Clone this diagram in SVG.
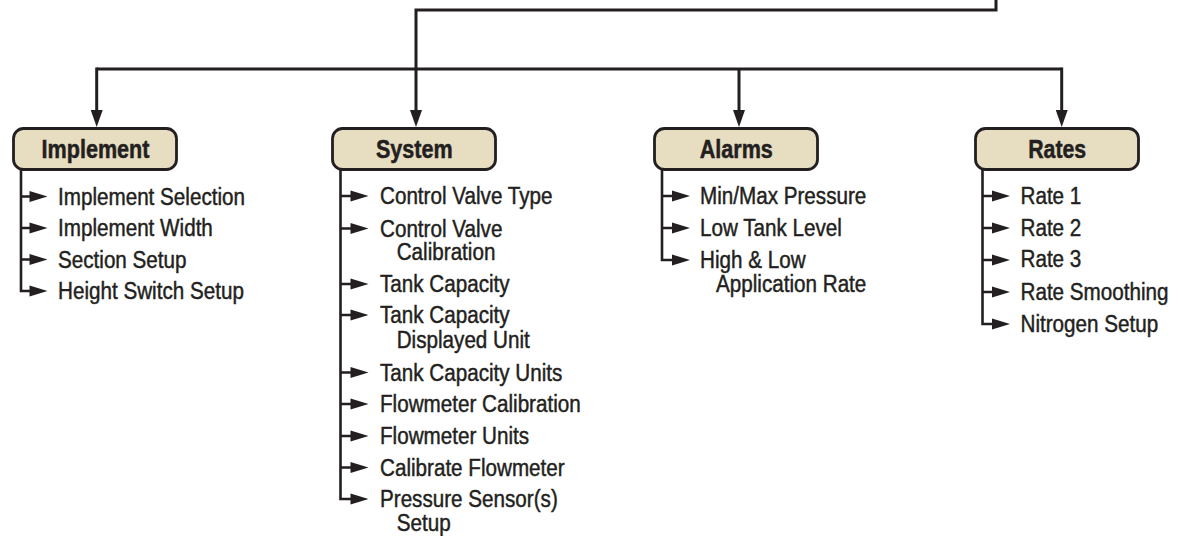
<svg xmlns="http://www.w3.org/2000/svg" xmlns:xlink="http://www.w3.org/1999/xlink" width="1182" height="536" viewBox="0 0 1182 536">
<style>
.ln{fill:none;stroke:#231f20;stroke-width:3;stroke-linejoin:miter;stroke-linecap:butt}
.sl{fill:none;stroke:#231f20;stroke-width:2.6;stroke-linejoin:miter}
.tri{fill:#231f20}
.box{fill:#e7ddc1;stroke:#231f20;stroke-width:2.8}
.hd{font-family:"Liberation Sans",Arial,sans-serif;font-weight:bold;font-size:26px;fill:#231f20;stroke:#231f20;stroke-width:0.5;text-anchor:middle}
.it{font-family:"Liberation Sans",Arial,sans-serif;font-size:23.2px;fill:#231f20;stroke:#231f20;stroke-width:0.45}
</style>
<defs>
<marker id="ad" markerUnits="userSpaceOnUse" markerWidth="17" markerHeight="12" refX="0" refY="6" orient="auto" viewBox="0 0 17 12"><path d="M0,0 L17,6 L0,12 z" fill="#231f20"/></marker>
<path id="ah" class="tri" d="M0,-5.5 L18,0 L0,5.5 z"/>
</defs>
<g id="connectors">
<path class="ln" d="M996,0 V10 H416 V110" marker-end="url(#ad)"/>
<path class="ln" d="M96.7,69 H1061.7"/>
<path class="ln" d="M96.7,67.5 V110" marker-end="url(#ad)"/>
<path class="ln" d="M739,69 V110" marker-end="url(#ad)"/>
<path class="ln" d="M1061.7,67.5 V110" marker-end="url(#ad)"/>
<!-- Implement items -->
<path class="sl" d="M21,170 V291 H30"/>
<path class="sl" d="M21,196.5 H30 M21,228 H30 M21,259.5 H30"/>
<use xlink:href="#ah" href="#ah" x="29.5" y="196.5"/>
<use xlink:href="#ah" href="#ah" x="29.5" y="228"/>
<use xlink:href="#ah" href="#ah" x="29.5" y="259.5"/>
<use xlink:href="#ah" href="#ah" x="29.5" y="291"/>
<!-- System items -->
<path class="sl" d="M340.5,170 V499 H351"/>
<path class="sl" d="M340.5,196 H351 M340.5,228.5 H351 M340.5,284 H351 M340.5,315 H351 M340.5,372.5 H351 M340.5,404 H351 M340.5,436 H351 M340.5,467.5 H351"/>
<use xlink:href="#ah" href="#ah" x="350.5" y="196"/>
<use xlink:href="#ah" href="#ah" x="350.5" y="228.5"/>
<use xlink:href="#ah" href="#ah" x="350.5" y="284"/>
<use xlink:href="#ah" href="#ah" x="350.5" y="315"/>
<use xlink:href="#ah" href="#ah" x="350.5" y="372.5"/>
<use xlink:href="#ah" href="#ah" x="350.5" y="404"/>
<use xlink:href="#ah" href="#ah" x="350.5" y="436"/>
<use xlink:href="#ah" href="#ah" x="350.5" y="467.5"/>
<use xlink:href="#ah" href="#ah" x="350.5" y="499"/>
<!-- Alarms items -->
<path class="sl" d="M662,170 V260 H672.5"/>
<path class="sl" d="M662,196 H672.5 M662,228 H672.5"/>
<use xlink:href="#ah" href="#ah" x="672" y="196"/>
<use xlink:href="#ah" href="#ah" x="672" y="228"/>
<use xlink:href="#ah" href="#ah" x="672" y="260"/>
<!-- Rates items -->
<path class="sl" d="M982.5,170 V324 H992.5"/>
<path class="sl" d="M982.5,196 H992.5 M982.5,228 H992.5 M982.5,260 H992.5 M982.5,292 H992.5"/>
<use xlink:href="#ah" href="#ah" x="992" y="196"/>
<use xlink:href="#ah" href="#ah" x="992" y="228"/>
<use xlink:href="#ah" href="#ah" x="992" y="260"/>
<use xlink:href="#ah" href="#ah" x="992" y="292"/>
<use xlink:href="#ah" href="#ah" x="992" y="324"/>
</g>
<g id="implement">
<rect class="box" x="13.5" y="128.5" width="163" height="41" rx="10"/>
<g transform="translate(95.5 0) scale(0.83 1)"><text class="hd" x="0" y="158.5">Implement</text></g>
<g transform="translate(58 0) scale(0.89 1)">
<text class="it" x="0" y="205">Implement Selection</text>
<text class="it" x="0" y="236.5">Implement Width</text>
<text class="it" x="0" y="268">Section Setup</text>
<text class="it" x="0" y="299.5">Height Switch Setup</text>
</g>
</g>
<g id="system">
<rect class="box" x="332.5" y="128.5" width="163" height="41" rx="10"/>
<g transform="translate(414.3 0) scale(0.83 1)"><text class="hd" x="0" y="158.5">System</text></g>
<g transform="translate(380 0) scale(0.89 1)">
<text class="it" x="0" y="204.5">Control Valve Type</text>
<text class="it" x="0" y="236.7">Control Valve</text>
<text class="it" x="18.8" y="260.5">Calibration</text>
<text class="it" x="0" y="292.3">Tank Capacity</text>
<text class="it" x="0" y="323.3">Tank Capacity</text>
<text class="it" x="18.8" y="348">Displayed Unit</text>
<text class="it" x="0" y="380.7">Tank Capacity Units</text>
<text class="it" x="0" y="412">Flowmeter Calibration</text>
<text class="it" x="0" y="444">Flowmeter Units</text>
<text class="it" x="0" y="475.7">Calibrate Flowmeter</text>
<text class="it" x="0" y="507">Pressure Sensor(s)</text>
<text class="it" x="18.8" y="531.5">Setup</text>
</g>
</g>
<g id="alarms">
<rect class="box" x="654.5" y="128.5" width="163" height="41" rx="10"/>
<g transform="translate(736.3 0) scale(0.83 1)"><text class="hd" x="0" y="158.5">Alarms</text></g>
<g transform="translate(700 0) scale(0.89 1)">
<text class="it" x="0" y="204">Min/Max Pressure</text>
<text class="it" x="0" y="236">Low Tank Level</text>
<text class="it" x="0" y="268">High &amp; Low</text>
<text class="it" x="18" y="292">Application Rate</text>
</g>
</g>
<g id="rates">
<rect class="box" x="975.5" y="128.5" width="163" height="41" rx="10"/>
<g transform="translate(1057.2 0) scale(0.82 1)"><text class="hd" x="0" y="158.5">Rates</text></g>
<g transform="translate(1020.5 0) scale(0.89 1)">
<text class="it" x="0" y="204.3">Rate 1</text>
<text class="it" x="0" y="236">Rate 2</text>
<text class="it" x="0" y="267.5">Rate 3</text>
<text class="it" x="0" y="300">Rate Smoothing</text>
<text class="it" x="0" y="331.7">Nitrogen Setup</text>
</g>
</g>
</svg>
